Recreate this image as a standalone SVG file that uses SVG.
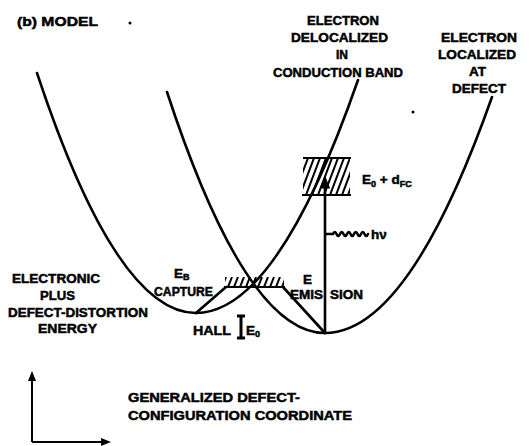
<svg xmlns="http://www.w3.org/2000/svg" width="530" height="446" viewBox="0 0 530 446">
<style>
.t{font-family:"Liberation Sans",Arial,sans-serif;font-weight:bold;font-size:13.5px;fill:#000;stroke:#000;stroke-width:0.5}
.s{font-size:9px}
.c{fill:none;stroke:#000;stroke-width:2.6;stroke-linecap:round}
.h{fill:none;stroke:#000;stroke-width:2}
</style>
<defs>
<clipPath id="cpTop"><rect x="303" y="159" width="47" height="35"/></clipPath>
<clipPath id="cpLow"><rect x="225" y="277" width="59" height="9"/></clipPath>
<marker id="ah" viewBox="0 0 10 10" refX="5" refY="5" markerWidth="5" markerHeight="5" orient="auto"><path d="M0,1 L10,5 L0,9 Z" fill="#000"/></marker>
</defs>
<rect width="530" height="446" fill="#fff"/>

<g id="curves">
  <path class="c" d="M37,73 Q116.5,313 196,313 Q277,313 358,80"/>
  <path class="c" d="M167,92 Q246,333 325,333 Q408.5,333 492,97"/>
  <path class="c" d="M196,313 L226,287"/>
  <path class="c" d="M283,287 L325,333"/>
  <path class="c" d="M325,333 V182" marker-end="url(#ah)"/>
  <path class="c" stroke-width="2" d="M326,234 H333 q1.75,-4 3.5,0 t3.5,0 t3.5,0 t3.5,0 t3.5,0 t3.5,0 t3.5,0 t3.5,0 t3.5,0 t3.5,0"/>
</g>

<g id="boxTop">
  <path class="h" d="M303,158 H351"/>
  <path class="h" stroke-width="2.8" d="M302,195 H351"/>
  <path class="h" clip-path="url(#cpTop)" d="M288,195 l14,-37 M294,195 l14,-37 M300,195 l14,-37 M306,195 l14,-37 M312,195 l14,-37 M318,195 l14,-37 M324,195 l14,-37 M330,195 l14,-37 M336,195 l14,-37 M342,195 l14,-37 M348,195 l14,-37"/>
</g>

<g id="boxLow">
  <path class="h" stroke-width="3.5" d="M224,287 H285"/>
  <path class="h" clip-path="url(#cpLow)" d="M222,287 l4,-10 M228,287 l4,-10 M234,287 l4,-10 M240,287 l4,-10 M246,287 l4,-10 M252,287 l4,-10 M258,287 l4,-10 M264,287 l4,-10 M270,287 l4,-10 M276,287 l4,-10 M282,287 l4,-10"/>
</g>

<g id="hallbar">
  <path fill="none" stroke="#000" stroke-width="3" d="M241,316 V338 M237,316 H245 M237,338 H245"/>
</g>

<g id="axes">
  <path fill="none" stroke="#000" stroke-width="2" d="M32,442 V376 M32,442 H106" marker-end="url(#ah)"/>
  <path fill="none" stroke="#000" stroke-width="2" d="M32,400 V376" marker-end="url(#ah)"/>
</g>

<g id="specks" fill="#000">
  <circle cx="130" cy="23" r="1.5"/>
  <circle cx="413" cy="112" r="1.5"/>
</g>

<g id="labels">
  <text class="t" x="17" y="26" textLength="81" lengthAdjust="spacingAndGlyphs">(b) MODEL</text>

  <text class="t" x="307" y="25" textLength="72" lengthAdjust="spacingAndGlyphs">ELECTRON</text>
  <text class="t" x="291" y="42" textLength="97" lengthAdjust="spacingAndGlyphs">DELOCALIZED</text>
  <text class="t" x="336" y="59" textLength="12" lengthAdjust="spacingAndGlyphs">IN</text>
  <text class="t" x="273" y="77" textLength="130" lengthAdjust="spacingAndGlyphs">CONDUCTION BAND</text>

  <text class="t" x="441" y="42" textLength="76" lengthAdjust="spacingAndGlyphs">ELECTRON</text>
  <text class="t" x="438" y="59" textLength="78" lengthAdjust="spacingAndGlyphs">LOCALIZED</text>
  <text class="t" x="469" y="76" textLength="17" lengthAdjust="spacingAndGlyphs">AT</text>
  <text class="t" x="452" y="93" textLength="54" lengthAdjust="spacingAndGlyphs">DEFECT</text>

  <text class="t" x="362" y="184">E<tspan class="s" dy="3">0</tspan><tspan dy="-3"> + d</tspan><tspan class="s" dy="3">FC</tspan></text>
  <text class="t" x="371" y="239">hν</text>

  <text class="t" x="174" y="278">E<tspan class="s" dy="2">B</tspan></text>
  <text class="t" x="154" y="296" textLength="59" lengthAdjust="spacingAndGlyphs">CAPTURE</text>

  <text class="t" x="303" y="284">E</text>
  <text class="t" y="299"><tspan x="290">EMIS</tspan><tspan x="330">SION</tspan></text>

  <text class="t" x="193" y="335" textLength="38" lengthAdjust="spacingAndGlyphs">HALL</text>
  <text class="t" x="246" y="335">E<tspan class="s" dy="2">0</tspan></text>

  <text class="t" x="12" y="283" textLength="88" lengthAdjust="spacingAndGlyphs">ELECTRONIC</text>
  <text class="t" x="40" y="300" textLength="35" lengthAdjust="spacingAndGlyphs">PLUS</text>
  <text class="t" x="8" y="317" textLength="140" lengthAdjust="spacingAndGlyphs">DEFECT-DISTORTION</text>
  <text class="t" x="38" y="333" textLength="59" lengthAdjust="spacingAndGlyphs">ENERGY</text>

  <text class="t" x="128" y="402" textLength="172" lengthAdjust="spacingAndGlyphs">GENERALIZED DEFECT-</text>
  <text class="t" x="128" y="420" textLength="224" lengthAdjust="spacingAndGlyphs">CONFIGURATION COORDINATE</text>
</g>
</svg>
